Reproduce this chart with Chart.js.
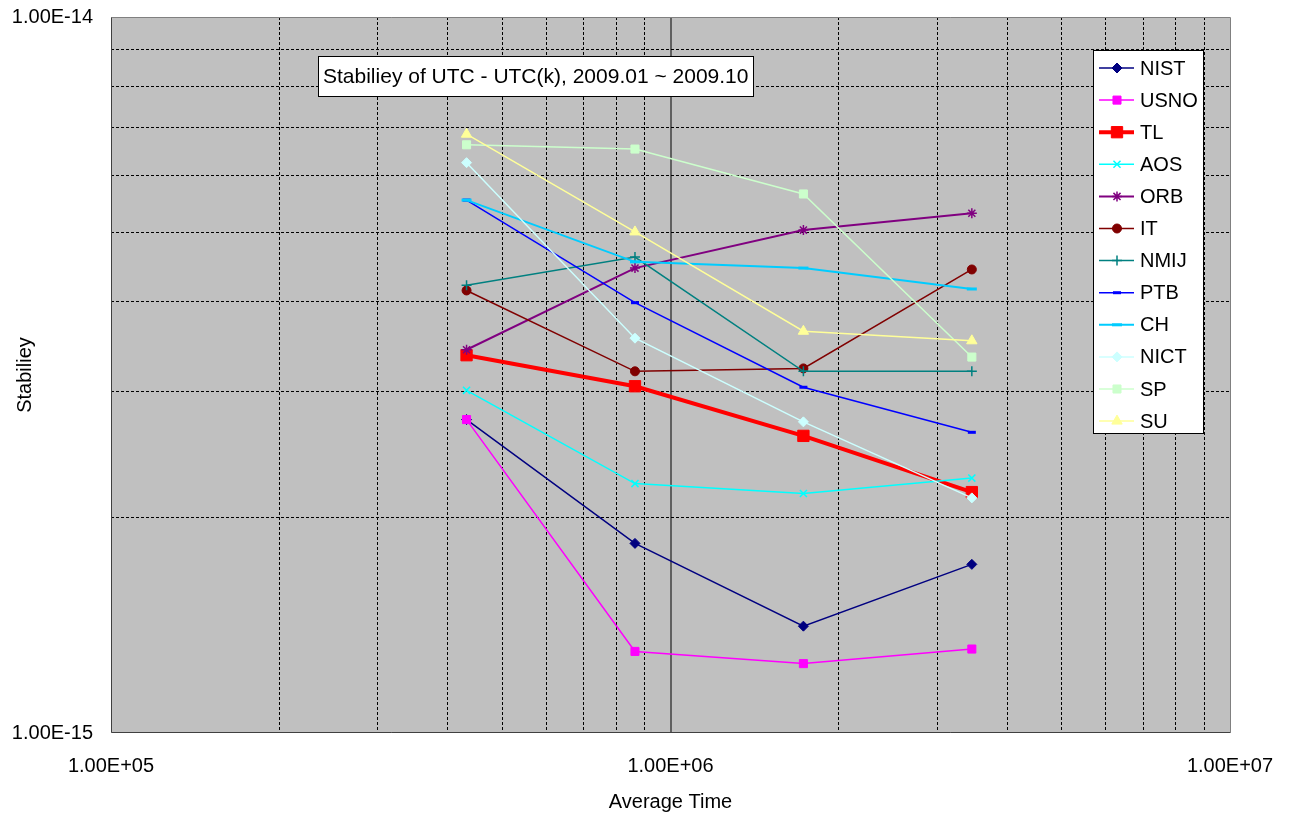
<!DOCTYPE html>
<html>
<head>
<meta charset="utf-8">
<title>Stabiliey of UTC - UTC(k)</title>
<script src="https://cdn.jsdelivr.net/npm/chart.js@4"></script>
<style>
  html, body { margin: 0; padding: 0; background: #ffffff; }
  #wrap { width: 1297px; height: 825px; }
</style>
</head>
<body>
<div id="wrap"><canvas id="chart" width="1297" height="825"></canvas></div>
<script>
// Averaging times (s): 5, 10, 20 and 40 days
const averageTimes = [432000, 864000, 1728000, 3456000];

// Stability of each UTC - UTC(k) series
const NIST = [2.74e-15, 1.84e-15, 1.41e-15, 1.72e-15];
const USNO = [2.74e-15, 1.30e-15, 1.25e-15, 1.31e-15];
const TL   = [3.37e-15, 3.05e-15, 2.60e-15, 2.17e-15];
const AOS  = [3.01e-15, 2.23e-15, 2.16e-15, 2.27e-15];
const ORB  = [3.43e-15, 4.46e-15, 5.04e-15, 5.32e-15];
const IT   = [4.15e-15, 3.20e-15, 3.23e-15, 4.44e-15];
const NMIJ = [4.22e-15, 4.62e-15, 3.20e-15, 3.20e-15];
const PTB  = [5.55e-15, 3.99e-15, 3.04e-15, 2.63e-15];
const CH   = [5.55e-15, 4.55e-15, 4.46e-15, 4.17e-15];
const NICT = [6.26e-15, 3.56e-15, 2.72e-15, 2.13e-15];
const SP   = [6.63e-15, 6.54e-15, 5.66e-15, 3.35e-15];
const SU   = [6.86e-15, 5.01e-15, 3.64e-15, 3.53e-15];

const seriesNames = ['NIST', 'USNO', 'TL', 'AOS', 'ORB', 'IT', 'NMIJ', 'PTB', 'CH', 'NICT', 'SP', 'SU'];
const seriesValues = [NIST, USNO, TL, AOS, ORB, IT, NMIJ, PTB, CH, NICT, SP, SU];

// Axis ranges (decades)
const xDecades = [5, 7];
const yDecades = [-15, -14];

const chartTitle = 'Stabiliey of UTC - UTC(k), 2009.01 ~ 2009.10';
const xTitle = 'Average Time';
const yTitle = 'Stabiliey';

const FONT = '"Liberation Sans", Arial, sans-serif';

// Line and marker look for each series
const styles = {
  NIST: { color: '#000080', width: 1.5, point: 'rectRot',  r: 5,   pw: 1 },
  USNO: { color: '#FF00FF', width: 1.5, point: 'rect',     r: 5.7, pw: 1 },
  TL:   { color: '#FF0000', width: 4,   point: 'rect',     r: 8,   pw: 1 },
  AOS:  { color: '#00FFFF', width: 1.5, point: 'crossRot', r: 5,   pw: 1.5 },
  ORB:  { color: '#800080', width: 2,   point: 'star',     r: 5,   pw: 1.5 },
  IT:   { color: '#800000', width: 1.5, point: 'circle',   r: 4.5, pw: 1 },
  NMIJ: { color: '#008080', width: 1.5, point: 'cross',    r: 5,   pw: 1.5 },
  PTB:  { color: '#0000FF', width: 1.5, point: 'line',     r: 4,   pw: 3 },
  CH:   { color: '#00CCFF', width: 2,   point: 'line',     r: 5,   pw: 3 },
  NICT: { color: '#CCFFFF', width: 1.5, point: 'rectRot',  r: 5,   pw: 1 },
  SP:   { color: '#CCFFCC', width: 1.5, point: 'rect',     r: 5.7, pw: 1 },
  SU:   { color: '#FFFF99', width: 1.5, point: 'triangle', r: 6,   pw: 1 }
};

const datasets = seriesNames.map((name, i) => {
  const s = styles[name];
  return {
    label: name,
    data: averageTimes.map((x, j) => ({ x: x, y: seriesValues[i][j] })),
    borderColor: s.color,
    backgroundColor: s.color,
    borderWidth: s.width,
    pointStyle: s.point,
    pointRadius: s.r,
    pointHoverRadius: s.r,
    pointBorderWidth: s.pw,
    pointBackgroundColor: s.color,
    pointBorderColor: s.color,
    tension: 0,
    order: -i
  };
});

function logTicks(e0, e1) {
  const out = [];
  for (let e = e0; e < e1; e++) {
    for (let m = 1; m <= 9; m++) out.push({ value: m * Math.pow(10, e) });
  }
  out.push({ value: Math.pow(10, e1) });
  return out;
}

function isDecade(v) {
  const l = Math.log10(v);
  return Math.abs(l - Math.round(l)) < 1e-9;
}

function sciLabel(v) {
  const e = Math.round(Math.log10(v));
  const m = v / Math.pow(10, e);
  return m.toFixed(2) + 'E' + (e < 0 ? '-' : '+') + String(Math.abs(e)).padStart(2, '0');
}

// Gray plot area with its frame
const plotFrame = {
  id: 'plotFrame',
  beforeDraw(chart) {
    const { ctx, chartArea: a } = chart;
    ctx.save();
    ctx.fillStyle = '#C0C0C0';
    ctx.fillRect(a.left, a.top, a.right - a.left, a.bottom - a.top);
    ctx.restore();
  },
  beforeDatasetsDraw(chart) {
    const { ctx, chartArea: a } = chart;
    const l = Math.round(a.left) + 0.5, r = Math.round(a.right) + 0.5;
    const t = Math.round(a.top) + 0.5, b = Math.round(a.bottom) - 0.5;
    ctx.save();
    ctx.lineWidth = 1;
    ctx.strokeStyle = '#808080';
    ctx.beginPath();
    ctx.moveTo(l, t); ctx.lineTo(r, t); ctx.lineTo(r, b);
    ctx.stroke();
    ctx.strokeStyle = '#404040';
    ctx.beginPath();
    ctx.moveTo(l, t); ctx.lineTo(l, b); ctx.lineTo(r, b);
    ctx.stroke();
    ctx.restore();
  }
};

// Boxed title inside the plot area and a line+marker legend on the right
const boxes = {
  id: 'boxes',
  afterDraw(chart) {
    const ctx = chart.ctx;
    ctx.save();
    ctx.textBaseline = 'middle';

    // title box
    ctx.font = '21px ' + FONT;
    const tw = ctx.measureText(chartTitle).width;
    const tx = 318, ty = 56, th = 40, tbw = Math.round(tw + 10);
    ctx.fillStyle = '#ffffff';
    ctx.fillRect(tx, ty, tbw, th);
    ctx.strokeStyle = '#000000';
    ctx.lineWidth = 1;
    ctx.strokeRect(tx + 0.5, ty + 0.5, tbw, th);
    ctx.fillStyle = '#000000';
    ctx.textAlign = 'left';
    ctx.fillText(chartTitle, tx + 5, ty + th / 2 + 1);

    // legend box
    ctx.font = '20px ' + FONT;
    const lx = 1093, ly = 50, lw = 110, lh = 383;
    ctx.fillStyle = '#ffffff';
    ctx.fillRect(lx, ly, lw, lh);
    ctx.strokeStyle = '#000000';
    ctx.strokeRect(lx + 0.5, ly + 0.5, lw, lh);

    const step = 32.1;
    chart.data.datasets.forEach((ds, i) => {
      const y = ly + 18 + i * step;
      ctx.strokeStyle = ds.borderColor;
      ctx.lineWidth = ds.borderWidth;
      ctx.beginPath();
      ctx.moveTo(lx + 6, y);
      ctx.lineTo(lx + 41, y);
      ctx.stroke();
      ctx.fillStyle = ds.pointBackgroundColor;
      ctx.strokeStyle = ds.pointBorderColor;
      ctx.lineWidth = ds.pointBorderWidth;
      Chart.helpers.drawPoint(ctx, {
        pointStyle: ds.pointStyle,
        rotation: 0,
        radius: ds.pointRadius,
        borderWidth: ds.pointBorderWidth
      }, lx + 24, y);
      ctx.fillStyle = '#000000';
      ctx.textAlign = 'left';
      ctx.fillText(ds.label, lx + 47, y + 1);
    });
    ctx.restore();
  }
};

new Chart(document.getElementById('chart'), {
  type: 'line',
  data: { datasets: datasets },
  plugins: [plotFrame, boxes],
  options: {
    responsive: false,
    animation: false,
    events: [],
    layout: { padding: { top: 17, right: 67, left: 0, bottom: 0 } },
    plugins: {
      legend: { display: false },
      title: { display: false },
      tooltip: { enabled: false }
    },
    scales: {
      x: {
        type: 'logarithmic',
        position: 'bottom',
        min: Math.pow(10, xDecades[0]),
        max: Math.pow(10, xDecades[1]),
        afterBuildTicks(scale) { scale.ticks = logTicks(xDecades[0], xDecades[1]); },
        afterFit(scale) {
          scale.height = 92;
          scale.paddingLeft = 0;
          scale.paddingRight = 0;
        },
        ticks: {
          autoSkip: false,
          maxRotation: 0,
          minRotation: 0,
          padding: 21,
          color: '#000000',
          font: { family: FONT, size: 20 },
          callback: (v) => isDecade(v) ? sciLabel(v) : ''
        },
        grid: {
          drawTicks: false,
          color: (c) => {
            const v = c.tick ? c.tick.value : 0;
            if (isDecade(v)) return Math.round(Math.log10(v)) === 6 ? '#606060' : 'rgba(0,0,0,0)';
            return '#000000';
          },
          lineWidth: (c) => (c.tick && isDecade(c.tick.value)) ? 2 : 1
        },
        border: {
          display: false,
          dash: (c) => (c.tick && isDecade(c.tick.value)) ? [] : [3, 2]
        },
        title: {
          display: true,
          text: xTitle,
          color: '#000000',
          font: { family: FONT, size: 20 },
          padding: { top: 0, bottom: 11 }
        }
      },
      y: {
        type: 'logarithmic',
        position: 'left',
        min: Math.pow(10, yDecades[0]),
        max: Math.pow(10, yDecades[1]),
        afterBuildTicks(scale) { scale.ticks = logTicks(yDecades[0], yDecades[1]); },
        afterFit(scale) {
          scale.width = 111;
          scale.paddingTop = 0;
          scale.paddingBottom = 0;
        },
        ticks: {
          autoSkip: false,
          padding: 18,
          color: '#000000',
          font: { family: FONT, size: 20 },
          callback: (v) => isDecade(v) ? sciLabel(v) : ''
        },
        grid: {
          drawTicks: false,
          color: (c) => (c.tick && isDecade(c.tick.value)) ? 'rgba(0,0,0,0)' : '#000000',
          lineWidth: 1
        },
        border: {
          display: false,
          dash: (c) => (c.tick && isDecade(c.tick.value)) ? [] : [3, 2]
        },
        title: {
          display: true,
          text: yTitle,
          color: '#000000',
          font: { family: FONT, size: 20 },
          padding: { top: 13, bottom: 0 }
        }
      }
    }
  }
});
</script>
</body>
</html>
